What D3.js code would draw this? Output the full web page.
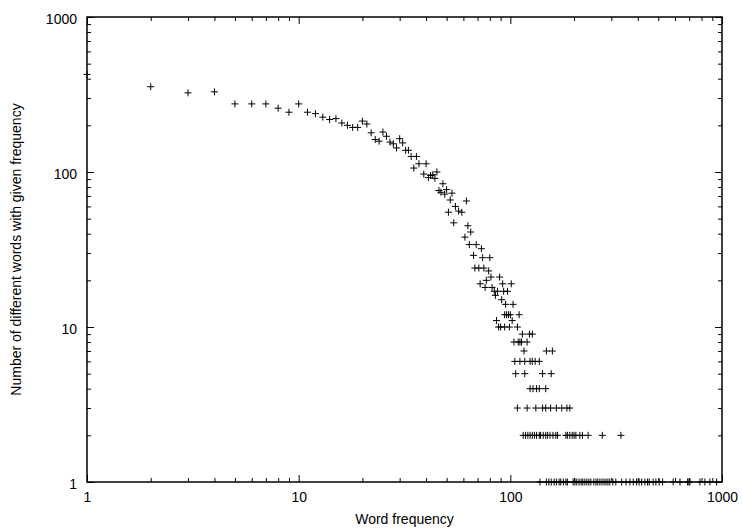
<!DOCTYPE html>
<html>
<head>
<meta charset="utf-8">
<script src="https://cdn.jsdelivr.net/npm/d3@7"></script>
<style>
  html, body { margin: 0; padding: 0; background: #fff; }
  svg { display: block; }
  text { font-family: "Liberation Sans", Arial, Helvetica, sans-serif; font-size: 14px; fill: #000; }
</style>
</head>
<body>
<svg id="chart" width="742" height="529"></svg>
<script>
// ---- data ----
const xTickLabels = ["1", "10", "100", "1000"];
const yTickLabels = ["1", "10", "100", "1000"];
const xTitle = "Word frequency";
const yTitle = "Number of different words with given frequency";

// low / mid frequencies
const freqA  = [1, 2, 3, 4, 5, 6, 7, 8, 9, 10, 11, 12, 13, 14, 15, 16, 17, 18, 19, 20,
                21, 22, 23, 24, 25, 26, 27, 28, 29, 30, 31, 32, 33, 34, 35, 36, 37, 39, 40, 41,
                42, 43, 44, 45, 46, 47, 48, 49, 50, 51, 52, 53, 54, 55, 57, 59, 61, 62, 63, 64,
                65, 67, 68, 69, 71, 73, 74, 75, 76, 77, 79, 80, 81, 82, 89];
const countA = [426, 355, 324, 329, 275, 275, 275, 258, 243, 275, 243, 238, 226, 218, 221, 207, 200, 194, 194, 213,
                204, 179, 162, 158, 181, 170, 156, 152, 143, 164, 154, 138, 138, 126, 106, 126, 113, 97, 113, 92,
                95, 96, 91, 100, 76, 74, 84, 72, 77, 55, 66, 73, 47, 60, 56, 55, 38, 65, 45, 34,
                41, 29, 24, 34, 24, 32, 28, 24, 18, 20, 23, 28, 21, 18, 21];

// counts 19 .. 3
const freq19 = [72, 92, 101];
const freq17 = [84, 87, 93, 97];
const freq16 = [85];
const freq15 = [91];
const freq14 = [95, 103];
const freq12 = [94, 96, 98, 100, 110];
const freq11 = [86, 102];
const freq10 = [88, 90, 94, 99, 108];
const freq9  = [114, 123, 127];
const freq8  = [104, 109, 111, 113, 120];
const freq7  = [116, 148, 158];
const freq6  = [105, 111, 117, 124, 127, 131, 137];
const freq5  = [106, 117, 142, 156];
const freq4  = [124, 128, 133, 137, 147];
const freq3  = [108, 120, 132, 142, 147, 155, 165, 175, 185, 191];
const freq2  = [115, 118, 121, 124, 127, 130, 133, 137, 139, 143, 147, 150, 154, 159, 164, 167,
                183, 186, 191, 196, 200, 204, 213, 219, 233, 272, 333];
const freq1  = [138, 148, 152, 156, 161, 165, 170, 173, 178, 183, 186, 198, 202, 206, 211, 216,
                220, 225, 230, 235, 240, 248, 254, 259, 265, 271, 277, 283, 289, 295, 305, 315,
                336, 352, 367, 381, 395, 406, 417, 432, 445, 453, 473, 487, 505, 524, 588, 633,
                688, 698, 705, 787, 830, 877, 943];

// ---- build point table ----
const points = freqA.map((f, i) => ({x: f, y: countA[i]}));
[[19, freq19], [17, freq17], [16, freq16], [15, freq15], [14, freq14], [12, freq12],
 [11, freq11], [10, freq10], [9, freq9], [8, freq8], [7, freq7], [6, freq6], [5, freq5],
 [4, freq4], [3, freq3], [2, freq2], [1, freq1]].forEach(([c, arr]) => {
  arr.forEach(f => points.push({x: f, y: c}));
});

// ---- layout ----
const L = 87, R = 722, T = 17, B = 482;
const svg = d3.select("#chart");
const x = d3.scaleLog().domain([1, 1000]).range([L, R]);
const y = d3.scaleLog().domain([1, 1000]).range([B, T]);

const majors = [1, 10, 100, 1000];
const minors = [];
[1, 10, 100].forEach(d => { for (let m = 2; m <= 9; m++) minors.push(d * m); });

const fmtX = v => xTickLabels[majors.indexOf(v)];
const fmtY = v => yTickLabels[majors.indexOf(v)];
const MAJ = 7, MIN = 4;

function styleAxis(g) {
  g.select(".domain").remove();
  g.selectAll(".tick line").attr("stroke", "#000").attr("stroke-width", 1);
}

// bottom
svg.append("g").attr("transform", `translate(0,${B})`)
  .call(d3.axisBottom(x).tickValues(majors).tickSize(-MAJ).tickPadding(10).tickFormat(fmtX))
  .call(styleAxis)
  .call(g => g.selectAll("text").attr("font-size", 14).attr("font-family", null));
svg.append("g").attr("transform", `translate(0,${B})`)
  .call(d3.axisBottom(x).tickValues(minors).tickSize(-MIN).tickFormat(""))
  .call(styleAxis);
// top
svg.append("g").attr("transform", `translate(0,${T})`)
  .call(d3.axisTop(x).tickValues(majors).tickSize(-MAJ).tickFormat(""))
  .call(styleAxis);
svg.append("g").attr("transform", `translate(0,${T})`)
  .call(d3.axisTop(x).tickValues(minors).tickSize(-MIN).tickFormat(""))
  .call(styleAxis);
// left
svg.append("g").attr("transform", `translate(${L},0)`)
  .call(d3.axisLeft(y).tickValues(majors).tickSize(-MAJ).tickPadding(10).tickFormat(fmtY))
  .call(styleAxis)
  .call(g => g.selectAll("text").attr("dy", "0.48em").attr("font-size", 14).attr("font-family", null));
svg.append("g").attr("transform", `translate(${L},0)`)
  .call(d3.axisLeft(y).tickValues(minors).tickSize(-MIN).tickFormat(""))
  .call(styleAxis);
// right
svg.append("g").attr("transform", `translate(${R},0)`)
  .call(d3.axisRight(y).tickValues(majors).tickSize(-MAJ).tickFormat(""))
  .call(styleAxis);
svg.append("g").attr("transform", `translate(${R},0)`)
  .call(d3.axisRight(y).tickValues(minors).tickSize(-MIN).tickFormat(""))
  .call(styleAxis);

// border
svg.append("rect")
  .attr("x", L).attr("y", T).attr("width", R - L).attr("height", B - T)
  .attr("fill", "none").attr("stroke", "#000").attr("stroke-width", 1.5);

// axis titles
svg.append("text")
  .attr("x", (L + R) / 2).attr("y", 524)
  .attr("text-anchor", "middle")
  .text(xTitle);
svg.append("text")
  .attr("transform", `translate(21,${(T + B) / 2}) rotate(-90)`)
  .attr("text-anchor", "middle")
  .text(yTitle);

// points as "+" markers
const S = 3.5;
const marks = svg.append("g").attr("stroke", "#000").attr("stroke-width", 1).attr("fill", "none");
marks.selectAll("path").data(points).join("path")
  .attr("d", d => {
    const px = x(d.x), py = y(d.y);
    return `M${px - S},${py}H${px + S}M${px},${py - S}V${py + S}`;
  });
</script>
</body>
</html>
